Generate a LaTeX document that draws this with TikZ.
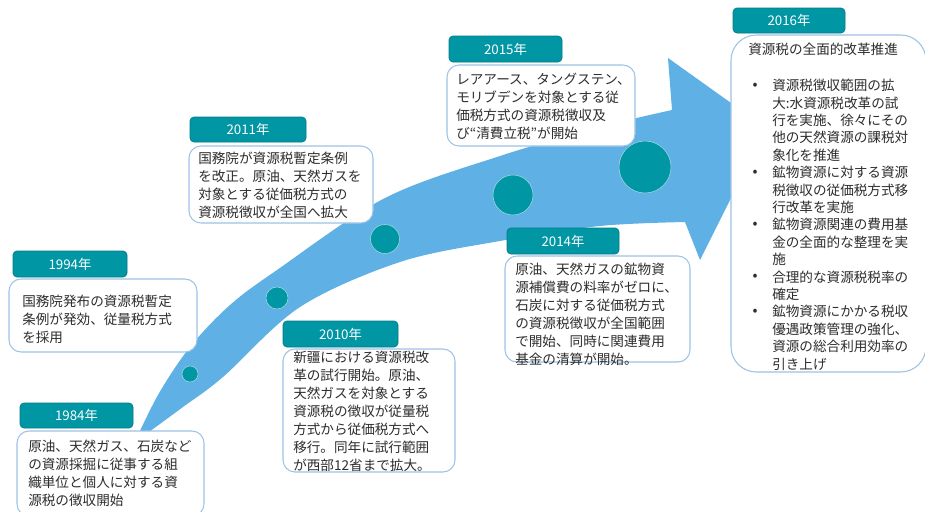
\documentclass[tikz,border=0pt]{standalone}
\usepackage{fontspec}
\setmainfont{Noto Sans CJK JP}
\usetikzlibrary{fit}
\definecolor{arrowblue}{RGB}{95,176,228}
\definecolor{tealc}{RGB}{0,150,164}
\definecolor{tealdark}{RGB}{0,122,134}
\definecolor{boxline}{RGB}{157,195,230}
\definecolor{txt}{RGB}{45,45,45}
\begin{document}
\begin{tikzpicture}[x=0.75pt,y=-0.75pt,
 lbl/.style={fill=tealc, draw=tealdark, line width=0.5pt, rounded corners=3pt, inner sep=0pt},
 lbltxt/.style={text=white, font=\fontsize{10}{12}\selectfont, inner sep=0pt},
 cbox/.style={fill=white, draw=boxline, line width=0.8pt, rounded corners=9pt, inner sep=0pt},
 body/.style={anchor=north west, inner sep=0pt, align=left, text=txt, font=\fontsize{10.2}{13.5}\selectfont},
 body16/.style={body, font=\fontsize{10.2}{13.05}\selectfont},
 bul/.style={inner sep=0pt, text=txt, font=\fontsize{11}{12}\selectfont},
 dot/.style={circle, fill=tealc, draw=tealc!35, line width=0.4pt, inner sep=0pt},
]
\useasboundingbox (0,0) rectangle (925,511);
% big curved arrow
\fill[arrowblue] plot[smooth, tension=0.55] coordinates {(132,448) (158,395) (190,347) (230,305) (277,270) (385,198) (500,156) (600,127) (672,110)}
  -- (668,58) -- (766,128) -- (700,260) -- (685,222)
  -- plot[smooth, tension=0.55] coordinates {(685,222) (600,226) (500,241) (400,262) (300,307) (223,377) (183,407) (138,440)} -- cycle;
% milestone dots
\node[dot, minimum size=12pt] (c1) at (190,374) {};
\node[dot, minimum size=16.5pt] (c2) at (277,298) {};
\node[dot, minimum size=21.75pt] (c3) at (385,239) {};
\node[dot, minimum size=30pt] (c4) at (513,195) {};
\node[dot, minimum size=39pt] (c5) at (645,167) {};
% 1984
\node[cbox, fit={(17,431) (204,516)}] (b84) {};
\node[lbl, fit={(20,403) (133,428)}] (l84) {};
\node[lbltxt] (t84) at (l84) {1984年};
\node[body] (x84) at (28,440) {原油、天然ガス、石炭など\\の資源採掘に従事する組\\織単位と個人に対する資\\源税の徴収開始};
% 1994
\node[cbox, fit={(9,279) (197,352)}] (b94) {};
\node[lbl, fit={(13,251) (127,277)}] (l94) {};
\node[lbltxt] (t94) at (l94) {1994年};
\node[body] (x94) at (22,295) {国務院発布の資源税暫定\\条例が発効、従量税方式\\を採用};
% 2011
\node[cbox, fit={(189,146) (373,223)}] (b11) {};
\node[lbl, fit={(190,117) (306,142)}] (l11) {};
\node[lbltxt] (t11) at (l11) {2011年};
\node[body] (x11) at (198,152) {国務院が資源税暫定条例\\を改正。原油、天然ガスを\\対象とする従価税方式の\\資源税徴収が全国へ拡大};
% 2010
\node[cbox, fit={(283,349) (455,472)}] (b10) {};
\node[lbl, fit={(283,321) (398,347)}] (l10) {};
\node[lbltxt] (t10) at (l10) {2010年};
\node[body] (x10) at (293,351) {新疆における資源税改\\革の試行開始。原油、\\天然ガスを対象とする\\資源税の徴収が従量税\\方式から従価税方式へ\\移行。同年に試行範囲\\が西部12省まで拡大。};
% 2015
\node[cbox, fit={(447,65) (635,146)}] (b15) {};
\node[lbl, fit={(449,36) (562,62)}] (l15) {};
\node[lbltxt] (t15) at (l15) {2015年};
\node[body] (x15) at (456,73) {レアアース、タングステン、\\モリブデンを対象とする従\\価税方式の資源税徴収及\\び“清費立税”が開始};
% 2014
\node[cbox, fit={(505,256) (690,362)}] (b14) {};
\node[lbl, fit={(507,228) (619,254)}] (l14) {};
\node[lbltxt] (t14) at (l14) {2014年};
\node[body] (x14) at (515,263) {原油、天然ガスの鉱物資\\源補償費の料率がゼロに、\\石炭に対する従価税方式\\の資源税徴収が全国範囲\\で開始、同時に関連費用\\基金の清算が開始。};
% 2016
\node[cbox, rounded corners=19pt, fit={(731,35) (926,372)}] (b16) {};
\node[lbl, fit={(733,8) (845,33)}] (l16) {};
\node[lbltxt] (t16) at (l16) {2016年};
\node[body] (x16a) at (748,43) {資源税の全面的改革推進};
\node[body16] (x16b) at (772,79) {資源税徴収範囲の拡\\大:水資源税改革の試\\行を実施、徐々にその\\他の天然資源の課税対\\象化を推進\\鉱物資源に対する資源\\税徴収の従価税方式移\\行改革を実施\\鉱物資源関連の費用基\\金の全面的な整理を実\\施\\合理的な資源税税率の\\確定\\鉱物資源にかかる税収\\優遇政策管理の強化、\\資源の総合利用効率の\\引き上げ};
\node[bul] (u1) at (755,86) {•};
\node[bul] (u2) at (755,173) {•};
\node[bul] (u3) at (755,225) {•};
\node[bul] (u4) at (755,277.5) {•};
\node[bul] (u5) at (755,312.3) {•};
\end{tikzpicture}
\end{document}
